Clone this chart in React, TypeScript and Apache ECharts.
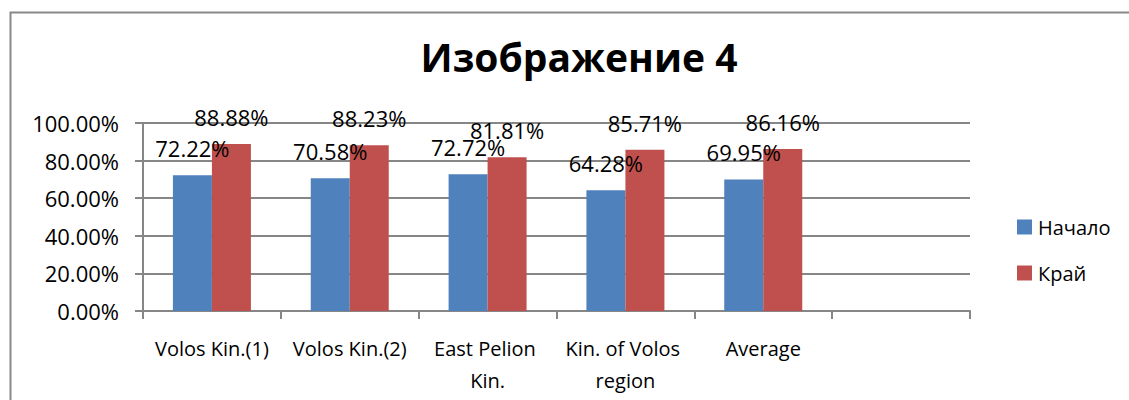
import React, { useEffect, useRef } from "react";
import * as echarts from "echarts";

const categories = ["Volos Kin.(1)", "Volos Kin.(2)", "East Pelion Kin.", "Kin. of Volos region", "Average", ""];
const startValues = [72.22, 70.58, 72.72, 64.28, 69.95, null];
const endValues = [88.88, 88.23, 81.81, 85.71, 86.16, null];
const seriesNames = ["Начало", "Край"];
const titleText = "Изображение 4";

const FONT = "'Open Sans', 'Noto Sans', sans-serif";

export default function App() {
  const ref = useRef<HTMLDivElement>(null);
  useEffect(() => {
    if (!ref.current) return;
    const chart = echarts.init(ref.current, undefined, { renderer: "svg" });
    const labelStyle = {
      show: true,
      position: "top" as const,
      distance: 16,
      color: "#000",
      fontFamily: FONT,
      fontSize: 22,
      formatter: (p: any) => (p.value == null ? "" : p.value.toFixed(2) + "%"),
    };
    chart.setOption({
      animation: false,
      backgroundColor: "#fff",
      title: {
        text: titleText,
        left: 574,
        textAlign: "center",
        top: 32,
        textStyle: { fontFamily: FONT, fontWeight: "bold", fontSize: 39, color: "#000" },
      },
      legend: {
        orient: "vertical",
        left: 1012,
        top: 212,
        itemWidth: 15,
        itemHeight: 15,
        itemGap: 26,
        icon: "rect",
        textStyle: { fontFamily: FONT, fontSize: 20, color: "#000", padding: [0, 0, 0, 1] },
        data: seriesNames,
      },
      grid: { left: 143, right: 159, top: 123, bottom: 89, containLabel: false },
      xAxis: {
        type: "category",
        data: categories,
        axisLine: { lineStyle: { color: "#868686", width: 2 } },
        axisTick: { show: true, length: 8, lineStyle: { color: "#868686", width: 2 } },
        axisLabel: {
          interval: 0,
          margin: 21,
          color: "#000",
          fontFamily: FONT,
          fontSize: 20,
          lineHeight: 32,
          width: 134,
          overflow: "break",
        },
      },
      yAxis: {
        type: "value",
        min: 0,
        max: 100,
        interval: 20,
        axisLine: { show: true, lineStyle: { color: "#868686", width: 2 } },
        axisTick: { show: true, length: 8, lineStyle: { color: "#868686", width: 2 } },
        splitLine: { lineStyle: { color: "#868686", width: 2 } },
        axisLabel: {
          margin: 24,
          color: "#000",
          fontFamily: FONT,
          fontSize: 22,
          formatter: (v: number) => v.toFixed(2) + "%",
        },
      },
      series: [
        {
          name: seriesNames[0],
          type: "bar",
          data: startValues,
          barWidth: 39,
          barGap: "0%",
          itemStyle: { color: "#4F81BD" },
          label: labelStyle,
        },
        {
          name: seriesNames[1],
          type: "bar",
          data: endValues,
          barWidth: 39,
          barGap: "0%",
          itemStyle: { color: "#C0504D" },
          label: labelStyle,
        },
      ],
      graphic: [
        {
          type: "rect",
          left: 8,
          top: 10,
          shape: { x: 0, y: 0, width: 1200, height: 500 },
          style: { fill: "none", stroke: "#888", lineWidth: 2 },
          silent: true,
          z: -1,
        },
      ],
    });
    return () => chart.dispose();
  }, []);
  return (
    <div
      ref={ref}
      style={{ position: "fixed", left: 0, top: 0, width: 1129, height: 400 }}
    />
  );
}
